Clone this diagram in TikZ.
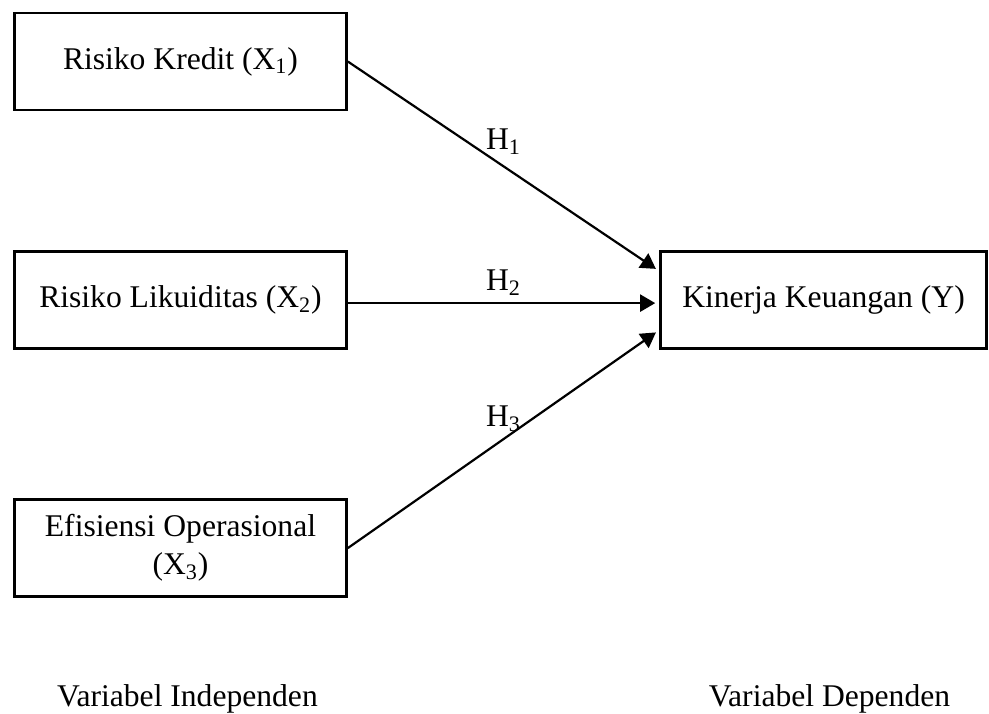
\documentclass[tikz,border=0pt]{standalone}
\usepackage{fontspec}
\setmainfont{Liberation Serif}
\usetikzlibrary{arrows.meta, positioning}

\begin{document}
\begin{tikzpicture}[
    node distance = 69.5pt and 155.7pt,
    box/.style  = {draw, line width=1.3pt, minimum width=166pt,
                   minimum height=48.5pt, align=center,
                   font=\fontsize{15.8}{19}\selectfont},
    lbl/.style  = {inner sep=0pt, font=\fontsize{15.8}{19}\selectfont},
    hyp/.style  = {midway, above, font=\fontsize{15.8}{19}\selectfont},
    arr/.style  = {-{Triangle[length=7.5pt, width=8.5pt]}, line width=1.1pt,
                   shorten >=2pt},
]

%% ── Page frame ──────────────────────────────────────────────────────────────
\useasboundingbox (0,0) rectangle (494.5pt,-356.5pt);

%% ── Independent variables (left column) ─────────────────────────────────────
\node[box] (x1) at (90.25pt,-30.75pt) {Risiko Kredit (X\textsubscript{1})};
\node[box, below=of x1]        (x2) {Risiko Likuiditas (X\textsubscript{2})};
\node[box, below=74.2pt of x2] (x3) {Efisiensi Operasional\\(X\textsubscript{3})};

%% ── Dependent variable (right) ──────────────────────────────────────────────
\node[box, right=of x2, minimum width=163pt] (kinerja) {Kinerja Keuangan (Y)};

%% ── Column captions ─────────────────────────────────────────────────────────
\node[lbl, below=43pt of x3, xshift=3.5pt] (indep) {Variabel Independen};
\node[lbl, xshift=3pt] (dep) at (indep -| kinerja) {Variabel Dependen};

%% ── Hypothesis arrows ───────────────────────────────────────────────────────
\draw[arr] (x1.east) -- ([yshift=14.5pt]kinerja.west)
    node[hyp, above=2pt] {H\textsubscript{1}};
\draw[arr] ([yshift=-1.5pt]x2.east) -- ([yshift=-1.5pt]kinerja.west)
    node[hyp] {H\textsubscript{2}};
\draw[arr] (x3.east) -- ([yshift=-15pt]kinerja.west)
    node[hyp] {H\textsubscript{3}};

\end{tikzpicture}
\end{document}
